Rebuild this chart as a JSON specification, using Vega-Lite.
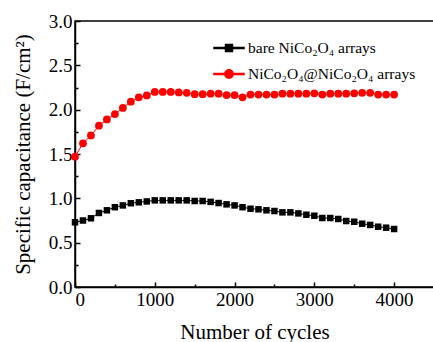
{
  "$schema": "https://vega.github.io/schema/vega-lite/v6.json",
  "width": 359,
  "height": 266,
  "autosize": {"type": "none"},
  "padding": {"left": 75, "top": 21, "right": 0, "bottom": 55},
  "config": {
    "font": "Liberation Serif",
    "view": {"stroke": "black", "strokeWidth": 1.5},
    "axis": {
      "domainColor": "black", "domainWidth": 1.5, "tickColor": "black", "tickWidth": 1.5,
      "labelColor": "black", "labelFont": "Liberation Serif", "labelFontSize": 19,
      "titleFont": "Liberation Serif", "titleFontSize": 21, "titleFontWeight": "normal", "titleColor": "black",
      "grid": false
    },
    "legend": {"labelColor": "black", "labelFont": "Liberation Serif"}
  },
  "data": {"values": [
    {"cycle": 0, "capacitance": 1.47, "series": "core"},
    {"cycle": 100, "capacitance": 1.62, "series": "core"},
    {"cycle": 200, "capacitance": 1.71, "series": "core"},
    {"cycle": 300, "capacitance": 1.82, "series": "core"},
    {"cycle": 400, "capacitance": 1.89, "series": "core"},
    {"cycle": 500, "capacitance": 1.95, "series": "core"},
    {"cycle": 600, "capacitance": 2.02, "series": "core"},
    {"cycle": 700, "capacitance": 2.09, "series": "core"},
    {"cycle": 800, "capacitance": 2.14, "series": "core"},
    {"cycle": 900, "capacitance": 2.16, "series": "core"},
    {"cycle": 1000, "capacitance": 2.2, "series": "core"},
    {"cycle": 1100, "capacitance": 2.2, "series": "core"},
    {"cycle": 1200, "capacitance": 2.2, "series": "core"},
    {"cycle": 1300, "capacitance": 2.195, "series": "core"},
    {"cycle": 1400, "capacitance": 2.19, "series": "core"},
    {"cycle": 1500, "capacitance": 2.175, "series": "core"},
    {"cycle": 1600, "capacitance": 2.175, "series": "core"},
    {"cycle": 1700, "capacitance": 2.18, "series": "core"},
    {"cycle": 1800, "capacitance": 2.18, "series": "core"},
    {"cycle": 1900, "capacitance": 2.165, "series": "core"},
    {"cycle": 2000, "capacitance": 2.165, "series": "core"},
    {"cycle": 2100, "capacitance": 2.14, "series": "core"},
    {"cycle": 2200, "capacitance": 2.17, "series": "core"},
    {"cycle": 2300, "capacitance": 2.17, "series": "core"},
    {"cycle": 2400, "capacitance": 2.17, "series": "core"},
    {"cycle": 2500, "capacitance": 2.17, "series": "core"},
    {"cycle": 2600, "capacitance": 2.18, "series": "core"},
    {"cycle": 2700, "capacitance": 2.18, "series": "core"},
    {"cycle": 2800, "capacitance": 2.18, "series": "core"},
    {"cycle": 2900, "capacitance": 2.18, "series": "core"},
    {"cycle": 3000, "capacitance": 2.185, "series": "core"},
    {"cycle": 3100, "capacitance": 2.17, "series": "core"},
    {"cycle": 3200, "capacitance": 2.18, "series": "core"},
    {"cycle": 3300, "capacitance": 2.18, "series": "core"},
    {"cycle": 3400, "capacitance": 2.18, "series": "core"},
    {"cycle": 3500, "capacitance": 2.185, "series": "core"},
    {"cycle": 3600, "capacitance": 2.19, "series": "core"},
    {"cycle": 3700, "capacitance": 2.19, "series": "core"},
    {"cycle": 3800, "capacitance": 2.17, "series": "core"},
    {"cycle": 3900, "capacitance": 2.17, "series": "core"},
    {"cycle": 4000, "capacitance": 2.17, "series": "core"},
    {"cycle": 0, "capacitance": 0.73, "series": "bare"},
    {"cycle": 100, "capacitance": 0.75, "series": "bare"},
    {"cycle": 200, "capacitance": 0.775, "series": "bare"},
    {"cycle": 300, "capacitance": 0.835, "series": "bare"},
    {"cycle": 400, "capacitance": 0.865, "series": "bare"},
    {"cycle": 500, "capacitance": 0.9, "series": "bare"},
    {"cycle": 600, "capacitance": 0.92, "series": "bare"},
    {"cycle": 700, "capacitance": 0.945, "series": "bare"},
    {"cycle": 800, "capacitance": 0.955, "series": "bare"},
    {"cycle": 900, "capacitance": 0.965, "series": "bare"},
    {"cycle": 1000, "capacitance": 0.977, "series": "bare"},
    {"cycle": 1100, "capacitance": 0.977, "series": "bare"},
    {"cycle": 1200, "capacitance": 0.977, "series": "bare"},
    {"cycle": 1300, "capacitance": 0.977, "series": "bare"},
    {"cycle": 1400, "capacitance": 0.977, "series": "bare"},
    {"cycle": 1500, "capacitance": 0.97, "series": "bare"},
    {"cycle": 1600, "capacitance": 0.97, "series": "bare"},
    {"cycle": 1700, "capacitance": 0.96, "series": "bare"},
    {"cycle": 1800, "capacitance": 0.947, "series": "bare"},
    {"cycle": 1900, "capacitance": 0.932, "series": "bare"},
    {"cycle": 2000, "capacitance": 0.92, "series": "bare"},
    {"cycle": 2100, "capacitance": 0.9, "series": "bare"},
    {"cycle": 2200, "capacitance": 0.883, "series": "bare"},
    {"cycle": 2300, "capacitance": 0.876, "series": "bare"},
    {"cycle": 2400, "capacitance": 0.865, "series": "bare"},
    {"cycle": 2500, "capacitance": 0.857, "series": "bare"},
    {"cycle": 2600, "capacitance": 0.842, "series": "bare"},
    {"cycle": 2700, "capacitance": 0.842, "series": "bare"},
    {"cycle": 2800, "capacitance": 0.83, "series": "bare"},
    {"cycle": 2900, "capacitance": 0.815, "series": "bare"},
    {"cycle": 3000, "capacitance": 0.804, "series": "bare"},
    {"cycle": 3100, "capacitance": 0.778, "series": "bare"},
    {"cycle": 3200, "capacitance": 0.778, "series": "bare"},
    {"cycle": 3300, "capacitance": 0.767, "series": "bare"},
    {"cycle": 3400, "capacitance": 0.744, "series": "bare"},
    {"cycle": 3500, "capacitance": 0.736, "series": "bare"},
    {"cycle": 3600, "capacitance": 0.714, "series": "bare"},
    {"cycle": 3700, "capacitance": 0.7, "series": "bare"},
    {"cycle": 3800, "capacitance": 0.68, "series": "bare"},
    {"cycle": 3900, "capacitance": 0.669, "series": "bare"},
    {"cycle": 4000, "capacitance": 0.654, "series": "bare"}
  ]},
  "resolve": {"axis": {"x": "independent", "y": "independent"}},
  "layer": [
    {
      "mark": {"type": "line", "strokeWidth": 1},
      "encoding": {
        "x": {"field": "cycle", "type": "quantitative", "scale": {"domain": [0, 4500], "nice": false},
              "axis": {"orient": "bottom", "values": [0, 1000, 2000, 3000, 4000], "format": "d", "tickSize": -5, "labelPadding": 8, "title": "Number of cycles", "titlePadding": 12}},
        "y": {"field": "capacitance", "type": "quantitative", "scale": {"domain": [0, 3], "nice": false},
              "axis": {"orient": "left", "values": [0, 0.5, 1, 1.5, 2, 2.5, 3], "format": ".1f", "tickSize": -5, "labelPadding": 8, "title": "Specific capacitance (F/cm²)", "titlePadding": 15}},
        "color": {"field": "series", "type": "nominal", "scale": {"domain": ["bare", "core"], "range": ["#000000", "#ff0000"]},
          "legend": {
            "title": null, "orient": "none", "legendX": 143, "legendY": 16, "padding": 0,
            "symbolSize": 400, "labelFontSize": 15.5, "labelFont": "Liberation Serif", "labelColor": "black",
            "labelOffset": 8, "rowPadding": 6, "labelLimit": 400,
            "labelExpr": "datum.value == 'bare' ? 'bare NiCo₂O₄ arrays' : 'NiCo₂O₄@NiCo₂O₄ arrays'",
            "encode": {"symbols": {"update": {
              "shape": {"signal": "datum.value == 'bare' ? 'M-1.5,-0.06H1.5V0.06H-1.5ZM-0.35,-0.35H0.35V0.35H-0.35Z' : 'M-1.5,-0.06H1.5V0.06H-1.5ZM0.42,0A0.42,0.42,0,1,1,-0.42,0A0.42,0.42,0,1,1,0.42,0Z'"},
              "fill": {"signal": "datum.value == 'bare' ? '#000000' : '#ff0000'"},
              "stroke": {"value": "transparent"},
              "opacity": {"value": 1}
            }}}
          }
        }
      }
    },
    {
      "transform": [{"filter": "datum.series == 'bare'"}],
      "mark": {"type": "point", "filled": true, "opacity": 1, "shape": "square", "size": 42},
      "encoding": {
        "x": {"field": "cycle", "type": "quantitative",
              "axis": {"orient": "bottom", "values": [500, 1500, 2500, 3500], "tickSize": -3, "labels": false, "domain": false, "title": null}},
        "y": {"field": "capacitance", "type": "quantitative",
              "axis": {"orient": "left", "values": [0.25, 0.75, 1.25, 1.75, 2.25, 2.75], "tickSize": -3, "labels": false, "domain": false, "title": null}},
        "color": {"field": "series", "type": "nominal"}
      }
    },
    {
      "transform": [{"filter": "datum.series == 'core'"}],
      "mark": {"type": "point", "filled": true, "opacity": 1, "shape": "circle", "size": 60},
      "encoding": {
        "x": {"field": "cycle", "type": "quantitative", "axis": null},
        "y": {"field": "capacitance", "type": "quantitative", "axis": null},
        "color": {"field": "series", "type": "nominal"}
      }
    }
  ]
}
